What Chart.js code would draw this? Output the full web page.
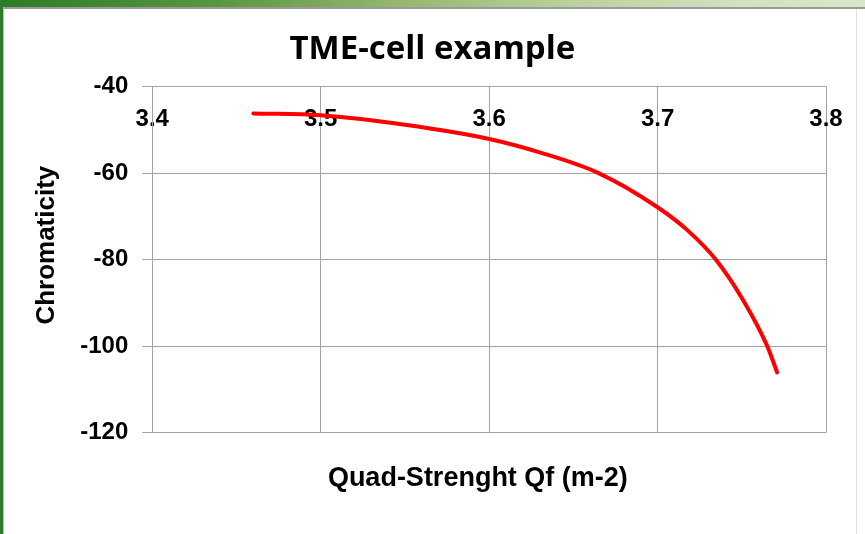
<!DOCTYPE html>
<html>
<head>
<meta charset="utf-8">
<script src="https://cdn.jsdelivr.net/npm/chart.js@4/dist/chart.umd.min.js"></script>
<style>
  html, body { margin: 0; padding: 0; background: #ffffff; }
  #wrap { position: relative; width: 865px; height: 534px; background: #ffffff; overflow: hidden; }
  #topbar { position: absolute; left: 0; top: 0; width: 865px; height: 7px;
    background: linear-gradient(to right, #2c7a28 0%, #5a9640 25%, #93b56e 45%, #b8d09a 65%, #d0e2bf 85%, #d8e7ca 100%); }
  #topline { position: absolute; left: 0; top: 7px; width: 865px; height: 2px; background: #9a9a9a; }
  #leftbar { position: absolute; left: 0; top: 0; width: 3px; height: 534px; background: #2e7b2b; }
  #leftline { position: absolute; left: 3px; top: 7px; width: 1px; height: 527px; background: #bdbdbd; }
  #rightline { position: absolute; left: 856px; top: 9px; width: 1px; height: 525px; background: #e2e2e2; }
  canvas { position: absolute; left: 0; top: 0; }
</style>
</head>
<body>
<div id="wrap">
  <div id="topbar"></div>
  <div id="topline"></div>
  <div id="leftbar"></div>
  <div id="leftline"></div>
  <div id="rightline"></div>
  <canvas id="c" width="865" height="534"></canvas>
</div>
<script>
// ---- data ----
const quadStrength = [3.46, 3.50, 3.55, 3.60, 3.63, 3.665, 3.70, 3.718, 3.735, 3.751, 3.765, 3.771];
const chromaticity = [-46.2, -46.6, -48.8, -52.1, -55.2, -60.0, -67.9, -73.3, -80.2, -89.5, -99.9, -106.1];
const xTicks = [3.4, 3.5, 3.6, 3.7, 3.8];
const xTickLabels = ['3.4', '3.5', '3.6', '3.7', '3.8'];
const yTicks = [-40, -60, -80, -100, -120];
const yTickLabels = ['-40', '-60', '-80', '-100', '-120'];
const chartTitle = 'TME-cell example';
const xTitle = 'Quad-Strenght Qf (m-2)';
const yTitle = 'Chromaticity';

const points = quadStrength.map((x, i) => ({ x: x, y: chromaticity[i] }));
const gridColor = '#a3a3a3';
const AX = 'Liberation Sans, Arial, sans-serif';

new Chart(document.getElementById('c'), {
  type: 'scatter',
  data: {
    datasets: [{
      data: points,
      showLine: true,
      borderColor: '#ff0000',
      backgroundColor: '#ff0000',
      borderWidth: 4,
      pointRadius: 0,
      cubicInterpolationMode: 'monotone',
      borderCapStyle: 'round',
      clip: false
    }]
  },
  options: {
    responsive: false,
    animation: false,
    events: [],
    layout: { padding: { left: 13, right: 39, top: 0, bottom: 0 } },
    plugins: {
      legend: { display: false },
      tooltip: { enabled: false },
      title: {
        display: true,
        text: '   ' + chartTitle,
        color: '#000000',
        font: { family: 'Open Sans, sans-serif', size: 33, weight: 'bold', lineHeight: 1.2 },
        padding: { top: 30, bottom: 17 }
      },
      subtitle: {
        display: true,
        position: 'bottom',
        fullSize: false,
        text: xTitle + '   ',
        color: '#000000',
        font: { family: AX, size: 27, weight: 'bold', lineHeight: 1.2 },
        padding: { top: 30, bottom: 39 }
      }
    },
    scales: {
      x: {
        type: 'linear',
        position: { y: -40 },
        min: 3.4,
        max: 3.8,
        afterBuildTicks: (s) => { s.ticks = xTicks.map(v => ({ value: v })); },
        ticks: {
          callback: (v) => { const i = xTicks.findIndex(t => Math.abs(t - v) < 1e-9); return i >= 0 ? xTickLabels[i] : ''; },
          color: '#000000',
          font: { family: AX, size: 24, weight: 'bold', lineHeight: 1.2 },
          padding: -47.4,
          maxRotation: 0,
          autoSkip: false
        },
        grid: { color: gridColor, tickColor: gridColor, lineWidth: 1, drawTicks: true, tickLength: 66 },
        border: { display: true, color: gridColor, width: 1 }
      },
      y: {
        type: 'linear',
        position: 'left',
        min: -120,
        max: -40,
        afterBuildTicks: (s) => { s.ticks = yTicks.map(v => ({ value: v })); },
        ticks: {
          callback: (v) => { const i = yTicks.indexOf(v); return i >= 0 ? yTickLabels[i] : ''; },
          color: '#000000',
          font: { family: AX, size: 24, weight: 'bold' },
          padding: 14
        },
        grid: { color: gridColor, tickColor: gridColor, lineWidth: 1, drawTicks: true, tickLength: 10 },
        border: { display: true, color: gridColor, width: 1 },
        title: {
          display: true,
          text: '    ' + yTitle,
          color: '#000000',
          font: { family: AX, size: 26, weight: 'bold', lineHeight: 1.2 },
          padding: { top: 18, bottom: 4 }
        }
      }
    }
  }
});
</script>
</body>
</html>
